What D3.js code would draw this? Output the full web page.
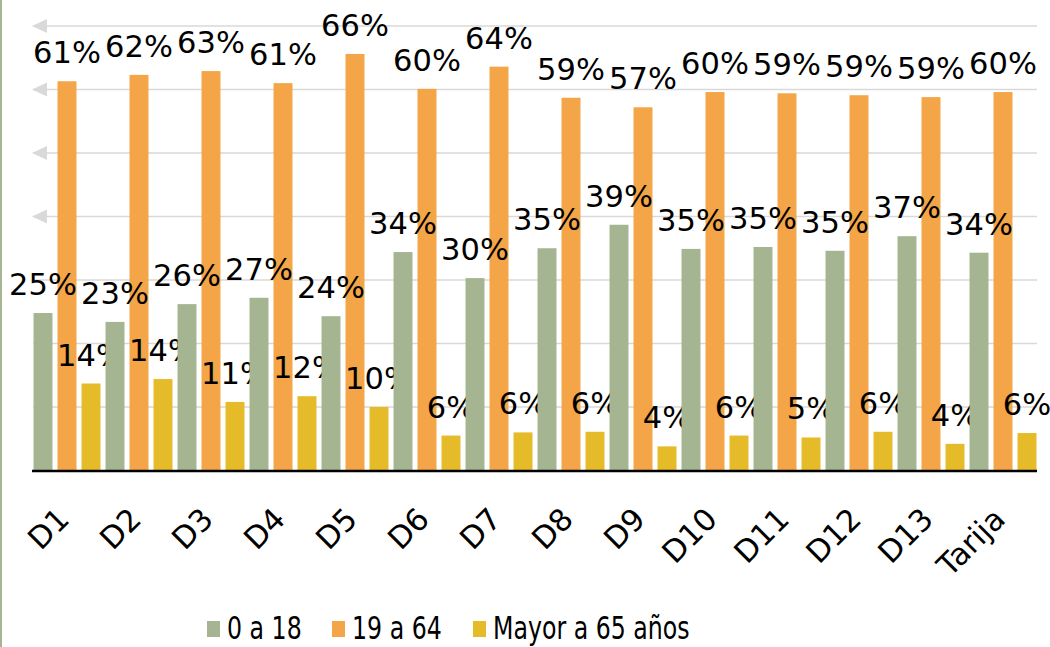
<!DOCTYPE html>
<html>
<head>
<meta charset="utf-8">
<script src="https://cdn.jsdelivr.net/npm/d3@7"></script>
<style>
  html, body { margin: 0; padding: 0; background: #fff; }
  svg { display: block; }
  text { font-family: "DejaVu Sans", Verdana, sans-serif; fill: #000; }
</style>
</head>
<body>
<svg id="chart" width="1050" height="647"></svg>
<script>
const categories = ["D1","D2","D3","D4","D5","D6","D7","D8","D9","D10","D11","D12","D13","Tarija"];
const seriesNames = ["0 a 18", "19 a 64", "Mayor a 65 años"];
const youth  = [24.8, 23.4, 26.2, 27.2, 24.3, 34.4, 30.3, 35.0, 38.7, 34.9, 35.2, 34.6, 36.9, 34.3];
const adults = [61.3, 62.3, 62.9, 61.0, 65.6, 60.1, 63.6, 58.7, 57.2, 59.6, 59.4, 59.1, 58.8, 59.6];
const elders = [13.7, 14.4, 10.8, 11.7, 10.0, 5.5, 6.0, 6.1, 3.8, 5.5, 5.2, 6.1, 4.2, 5.9];
const yTicks = [0, 10, 20, 30, 40, 50, 60, 70];
const arrowTicks = [40, 50, 60, 70];
const colors = ["#A5B592", "#F3A547", "#E6BB2A"];

const series = [youth, adults, elders];
const svg = d3.select("#chart");

// left frame border
svg.append("line").attr("x1", 1).attr("x2", 1).attr("y1", 0).attr("y2", 647)
  .attr("stroke", "#A5B592").attr("stroke-width", 2);

const x0 = d3.scaleBand().domain(categories).range([31, 1039]).paddingInner(0).paddingOuter(0);
const x1 = d3.scaleBand().domain(d3.range(3)).range([0, x0.bandwidth()]).paddingInner(0.21).paddingOuter(0.105);
const y = d3.scaleLinear().domain([0, 70]).range([470.5, 26]);

// gridlines
const grid = svg.append("g");
grid.selectAll("line").data(yTicks.filter(t => t > 0)).join("line")
  .attr("x1", 33).attr("x2", 1037)
  .attr("y1", d => y(d)).attr("y2", d => y(d))
  .attr("stroke", "#D9D9D9").attr("stroke-width", 1.5);
grid.selectAll("path").data(arrowTicks).join("path")
  .attr("d", d => `M32,${y(d)} L47,${y(d) - 7} L47,${y(d) + 7} Z`)
  .attr("fill", "#D9D9D9");

// bars
const groups = svg.append("g").selectAll("g").data(categories).join("g")
  .attr("transform", c => `translate(${x0(c)},0)`);
groups.selectAll("rect").data((c, i) => series.map((s, k) => ({k, v: s[i]}))).join("rect")
  .attr("x", d => x1(d.k))
  .attr("width", x1.bandwidth())
  .attr("y", d => y(d.v))
  .attr("height", d => y(0) - y(d.v))
  .attr("fill", d => colors[d.k]);

// data labels
groups.selectAll("text").data((c, i) => series.map((s, k) => ({k, v: s[i]}))).join("text")
  .attr("x", d => x1(d.k) + x1.bandwidth() / 2)
  .attr("y", d => y(d.v) - 18)
  .attr("text-anchor", "middle")
  .attr("font-size", 30.5)
  .text(d => Math.round(d.v) + "%");

// baseline axis
svg.append("line").attr("x1", 32).attr("x2", 1037).attr("y1", y(0) + 0.5).attr("y2", y(0) + 0.5)
  .attr("stroke", "#000").attr("stroke-width", 2.5);

// category labels
svg.append("g").selectAll("text").data(categories).join("text")
  .attr("transform", c => `translate(${x0(c) + x0.bandwidth() / 2 + 4},521) rotate(-45)`)
  .attr("text-anchor", "end")
  .attr("font-size", 30.5)
  .text(c => c);

// legend
const legendX = [207, 332, 473];
const leg = svg.append("g");
seriesNames.forEach((name, k) => {
  leg.append("rect").attr("x", legendX[k]).attr("y", 621).attr("width", 13).attr("height", 16)
    .attr("fill", colors[k]);
  leg.append("text")
    .attr("transform", `translate(${legendX[k] + 20},639) scale(0.74,1)`)
    .attr("font-size", 32)
    .text(name);
});
</script>
</body>
</html>
